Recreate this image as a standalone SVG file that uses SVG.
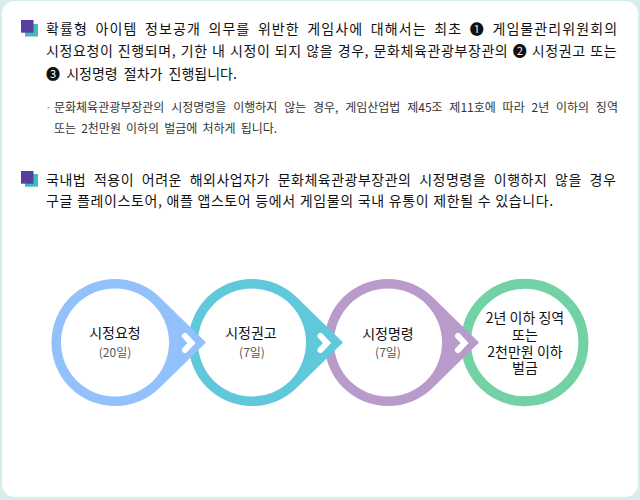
<svg xmlns="http://www.w3.org/2000/svg" width="640" height="500" viewBox="0 0 640 500">
<style>
text{font-family:"Noto Sans CJK KR","Noto Sans",sans-serif;fill:#222}
.m{font-size:14px;font-weight:400;fill:#111}
.s{font-size:12px;fill:#333}
.n{font-size:14px;font-weight:400;text-anchor:middle;fill:#111}
.d{font-size:12px;text-anchor:middle;fill:#555}
.c{fill:#fff}
.ch{fill:none;stroke:#fff;stroke-width:6;stroke-linecap:round;stroke-linejoin:miter}
</style>
<rect width="640" height="500" fill="#d6eded"/>
<rect x="2" y="1" width="636" height="496" rx="13" fill="#fff"/>
<g id="bullet1"><rect x="25" y="24" width="13" height="12.500" fill="#3dbcb8"/><rect x="21" y="20" width="12.500" height="12.700" fill="#5a3fa3"/></g>
<text class="m" x="46" y="34" letter-spacing="1.1" word-spacing="3.300">확률형 아이템 정보공개 의무를 위반한 게임사에 대해서는 최초 ❶ 게임물관리위원회의</text>
<text class="m" x="46" y="56" letter-spacing="0.6" word-spacing="0.700">시정요청이 진행되며, 기한 내 시정이 되지 않을 경우, 문화체육관광부장관의 ❷ 시정권고 또는</text>
<text class="m" x="46" y="79" word-spacing="3">❸ 시정명령 절차가 진행됩니다.</text>
<text class="s" x="45" y="112" style="fill:#888">·</text>
<text class="s" x="54" y="112" word-spacing="4.100">문화체육관광부장관의 시정명령을 이행하지 않는 경우, 게임산업법 제45조 제11호에 따라 2년 이하의 징역</text>
<text class="s" x="54" y="133" word-spacing="2.400">또는 2천만원 이하의 벌금에 처하게 됩니다.</text>
<g id="bullet2"><rect x="25" y="174" width="13" height="12.700" fill="#3dbcb8"/><rect x="21" y="171" width="12.500" height="12.700" fill="#5a3fa3"/></g>
<text class="m" x="46" y="185" letter-spacing="0.5" word-spacing="4.100">국내법 적용이 어려운 해외사업자가 문화체육관광부장관의 시정명령을 이행하지 않을 경우</text>
<text class="m" x="46" y="206" letter-spacing="0.6" word-spacing="0.300">구글 플레이스토어, 애플 앱스토어 등에서 게임물의 국내 유통이 제한될 수 있습니다.</text>
<g id="node4"><circle cx="524.7" cy="342.5" r="58.7" fill="#fff" stroke="#72d2a5" stroke-width="10"/>
<text class="n" x="525" y="323">2년 이하 징역</text><text class="n" x="525" y="339.500">또는</text><text class="n" x="525" y="356.500">2천만원 이하</text><text class="n" x="525" y="373">벌금</text></g>
<g id="node3"><path d="M343 297.600A63.500 63.500 0 1 0 433 387.400L479 342.500L433 297.600A63.500 63.500 0 0 0 343 297.600Z" fill="#b99bcb"/><circle class="c" cx="388" cy="342.500" r="54"/>
<path class="ch" d="M458 336L464.500 343L458 350"/>
<text class="n" x="388" y="339">시정명령</text><text class="d" x="388" y="357">(7일)</text></g>
<g id="node2"><path d="M207 297.600A63.500 63.500 0 1 0 297 387.400L343 342.500L297 297.600A63.500 63.500 0 0 0 207 297.600Z" fill="#5fc8da"/><circle class="c" cx="252" cy="342.500" r="54"/>
<path class="ch" d="M320.500 336L327 343L320.500 350"/>
<text class="n" x="251" y="338">시정권고</text><text class="d" x="252" y="357">(7일)</text></g>
<g id="node1"><path d="M70 297.600A63.500 63.500 0 1 0 160 387.400L206 342.500L160 297.600A63.500 63.500 0 0 0 70 297.600Z" fill="#93c1fb"/><circle class="c" cx="115" cy="342.500" r="54"/>
<path class="ch" d="M185 336L191.500 343L185 350"/>
<text class="n" x="115" y="338">시정요청</text><text class="d" x="115" y="357">(20일)</text></g>
</svg>
